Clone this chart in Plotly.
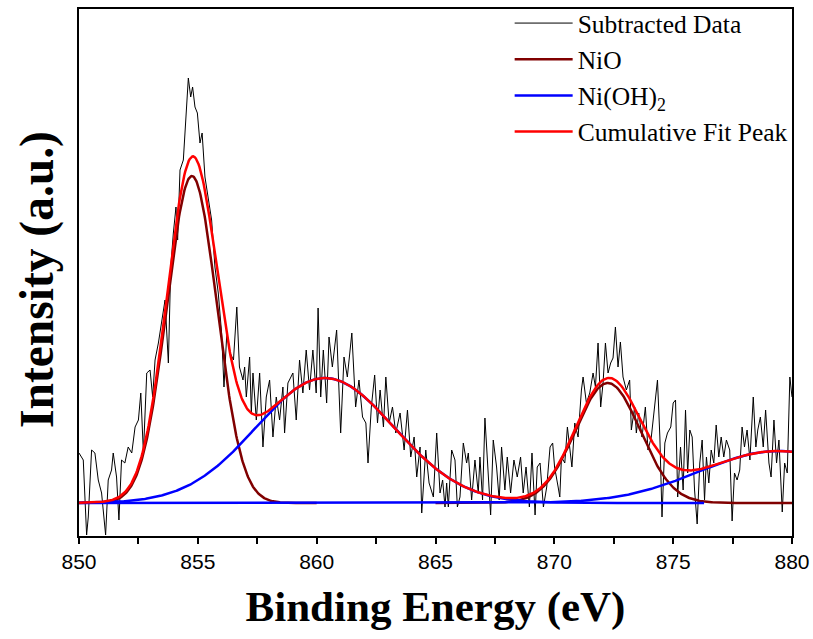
import numpy as np
import plotly.graph_objects as go

# ---------------- data ----------------
be = [850.0, 850.18, 850.32, 850.39, 850.53, 850.67, 850.81, 850.95, 851.12, 851.23, 851.37, 851.44,
      851.58, 851.68, 851.79, 851.93, 852.07, 852.22, 852.36, 852.5, 852.6, 852.71, 852.85, 852.99,
      853.1, 853.2, 853.34, 853.48, 853.62, 853.76, 853.86, 853.97, 854.08, 854.15, 854.25, 854.39,
      854.5, 854.6, 854.7, 854.78, 854.88, 854.98, 855.09, 855.18, 855.3, 855.44, 855.58, 855.72,
      855.86, 856.0, 856.1, 856.22, 856.36, 856.5, 856.64, 856.75, 856.9, 856.97, 857.04, 857.18,
      857.25, 857.32, 857.46, 857.6, 857.74, 857.88, 858.02, 858.16, 858.3, 858.44, 858.58, 858.65,
      858.79, 859.0, 859.14, 859.28, 859.42, 859.56, 859.7, 859.84, 859.98, 860.06, 860.17, 860.28,
      860.42, 860.52, 860.66, 860.84, 861.01, 861.15, 861.29, 861.48, 861.64, 861.78, 861.93, 862.07,
      862.16, 862.3, 862.44, 862.56, 862.67, 862.81, 862.91, 863.05, 863.19, 863.33, 863.51, 863.68,
      863.82, 863.96, 864.1, 864.21, 864.35, 864.42, 864.59, 864.73, 864.91, 865.05, 865.19, 865.3,
      865.4, 865.47, 865.54, 865.68, 865.82, 865.92, 866.03, 866.17, 866.31, 866.38, 866.52, 866.66,
      866.8, 866.87, 866.98, 867.08, 867.22, 867.32, 867.43, 867.57, 867.68, 867.78, 867.92, 868.02,
      868.16, 868.3, 868.44, 868.58, 868.69, 868.81, 868.95, 869.06, 869.19, 869.28, 869.4, 869.54,
      869.68, 869.82, 869.93, 870.01, 870.16, 870.23, 870.3, 870.44, 870.55, 870.65, 870.74, 870.86,
      871.0, 871.14, 871.21, 871.35, 871.49, 871.63, 871.73, 871.84, 871.95, 872.05, 872.15, 872.26,
      872.37, 872.47, 872.57, 872.68, 872.78, 872.89, 873.03, 873.17, 873.24, 873.38, 873.45, 873.55,
      873.69, 873.83, 873.94, 874.08, 874.22, 874.34, 874.44, 874.53, 874.65, 874.76, 874.9, 875.0,
      875.1, 875.19, 875.31, 875.42, 875.52, 875.61, 875.7, 875.8, 875.9, 876.01, 876.12, 876.22,
      876.32, 876.4, 876.5, 876.6, 876.71, 876.81, 876.92, 877.02, 877.13, 877.24, 877.38, 877.48,
      877.58, 877.69, 877.8, 877.9, 878.0, 878.11, 878.23, 878.37, 878.48, 878.56, 878.67, 878.79,
      878.89, 879.03, 879.12, 879.24, 879.35, 879.45, 879.59, 879.69, 879.8, 879.91, 880.0]

intensity = [50, 43, -32, -14, 53, 50, 23, 10, -32, 23, 33, 50,
             26, -17, 43, 40, 56, 50, 76, 83, 110, 50, 130, 133,
             106, 143, 160, 183, 203, 140, 236, 270, 296, 263, 333, 343,
             383, 425, 406, 416, 396, 390, 360, 370, 326, 303, 283, 236,
             210, 170, 116, 170, 150, 143, 196, 136, 123, 136, 106, 146,
             90, 130, 83, 130, 56, 106, 123, 66, 106, 83, 116, 70,
             120, 130, 83, 143, 110, 153, 113, 153, 110, 195, 106, 153,
             100, 166, 136, 173, 70, 146, 126, 170, 96, 123, 86, 80,
             40, 96, 128, 80, 113, 76, 126, 80, 96, 70, 90, 53,
             93, 46, 66, 26, 56, -10, 53, 20, 6, 70, 10, 23,
             -4, 20, -4, 53, 43, -4, 6, 60, 40, 50, 3, 43,
             10, 46, 3, 85, 23, -12, 63, 36, 3, 56, 13, 46,
             10, 43, 26, 46, 10, 36, -4, 50, -12, 36, 40, -4,
             16, 56, 60, 36, 16, 6, 46, 40, 76, 53, 36, 80,
             66, 113, 126, 100, 110, 130, 116, 160, 96, 120, 160, 130,
             140, 145, 176, 136, 161, 126, 113, 123, 73, 96, 70, 90,
             66, 96, 53, 66, 100, 123, 66, -14, 60, 70, 76, 100,
             103, 6, 56, 13, 93, 30, 73, 66, 13, -21, 40, 63,
             3, 46, 20, 53, 40, 78, 46, 66, 46, 63, 53, -18,
             30, 23, 33, 76, 56, 73, 43, 106, 56, 73, 86, 56,
             93, 40, 26, 83, 40, 63, -9, 40, 30, 126, 106]

# fitted Gaussian components: centre (eV), height, sigma (eV), drawn range (eV)
nio_center = [854.75, 872.25]
nio_height = [327, 120]
nio_sigma = [1.05, 1.36]
nio_start = [850.0, 865.0]
nio_end = [860.0, 880.0]

oh_center = [860.35, 879.4]
oh_height = [125, 52]
oh_sigma = [2.9, 3.3]
oh_start = [850.0, 850.0]
oh_end = [876.3, 880.0]

x_ticks = [850, 855, 860, 865, 870, 875, 880]


def gauss(x, c, h, s):
    return h * np.exp(-(x - c) ** 2 / (2 * s ** 2))


fig = go.Figure()

fig.add_trace(go.Scatter(x=be, y=intensity, mode="lines", name="Subtracted Data",
                         line=dict(color="black", width=1)))

for i in range(len(nio_center)):
    xs = np.linspace(nio_start[i], nio_end[i], 400)
    fig.add_trace(go.Scatter(x=xs, y=gauss(xs, nio_center[i], nio_height[i], nio_sigma[i]),
                             mode="lines", name="NiO", legendgroup="nio", showlegend=(i == 0),
                             line=dict(color="#800000", width=2.5)))

for i in range(len(oh_center)):
    xs = np.linspace(oh_start[i], oh_end[i], 600)
    fig.add_trace(go.Scatter(x=xs, y=gauss(xs, oh_center[i], oh_height[i], oh_sigma[i]),
                             mode="lines", name="Ni(OH)<sub>2</sub>", legendgroup="oh",
                             showlegend=(i == 0),
                             line=dict(color="#0000ff", width=2.5)))

xs = np.linspace(850, 880, 800)
cum = np.zeros_like(xs)
for i in range(len(nio_center)):
    cum += gauss(xs, nio_center[i], nio_height[i], nio_sigma[i])
for i in range(len(oh_center)):
    cum += gauss(xs, oh_center[i], oh_height[i], oh_sigma[i])
fig.add_trace(go.Scatter(x=xs, y=cum, mode="lines", name="Cumulative Fit Peak",
                         line=dict(color="#ff0000", width=2.5)))

serif = "Liberation Serif, Times New Roman, serif"

fig.update_layout(
    width=813, height=639,
    margin=dict(l=79, r=21, t=9, b=103, autoexpand=False),
    paper_bgcolor="white", plot_bgcolor="white",
    showlegend=True,
    legend=dict(x=0.604, xref="paper", y=1.0, yref="container",
                xanchor="left", yanchor="top",
                bgcolor="rgba(0,0,0,0)", borderwidth=0, itemwidth=58,
                tracegroupgap=0,
                font=dict(family=serif, size=25.5, color="black")),
    xaxis=dict(range=[850, 880], tickvals=x_ticks, ticktext=[str(t) for t in x_ticks],
               ticks="outside", ticklen=6, tickwidth=1.5, tickcolor="black",
               minor=dict(tick0=850, dtick=2.5, ticks="outside", ticklen=6, tickwidth=1.5,
                          tickcolor="black"),
               showline=True, linecolor="black", linewidth=1.5, mirror=True,
               showgrid=False, zeroline=False,
               tickfont=dict(family="Liberation Sans, Arial, sans-serif", size=21, color="black"),
               title=dict(text="<b>Binding Energy (eV)</b>", standoff=19,
                          font=dict(family=serif, size=43, color="black"))),
    yaxis=dict(range=[-33, 494], showticklabels=False, ticks="",
               showline=True, linecolor="black", linewidth=1.5, mirror=True,
               showgrid=False, zeroline=False),
    annotations=[dict(text="<b>Intensity (a.u.)</b>", textangle=-90,
                      xref="paper", yref="paper", x=-0.0575, y=0.4858,
                      xanchor="center", yanchor="middle", showarrow=False,
                      font=dict(family=serif, size=47.5, color="black"))],
)

fig.write_html("out.html")
